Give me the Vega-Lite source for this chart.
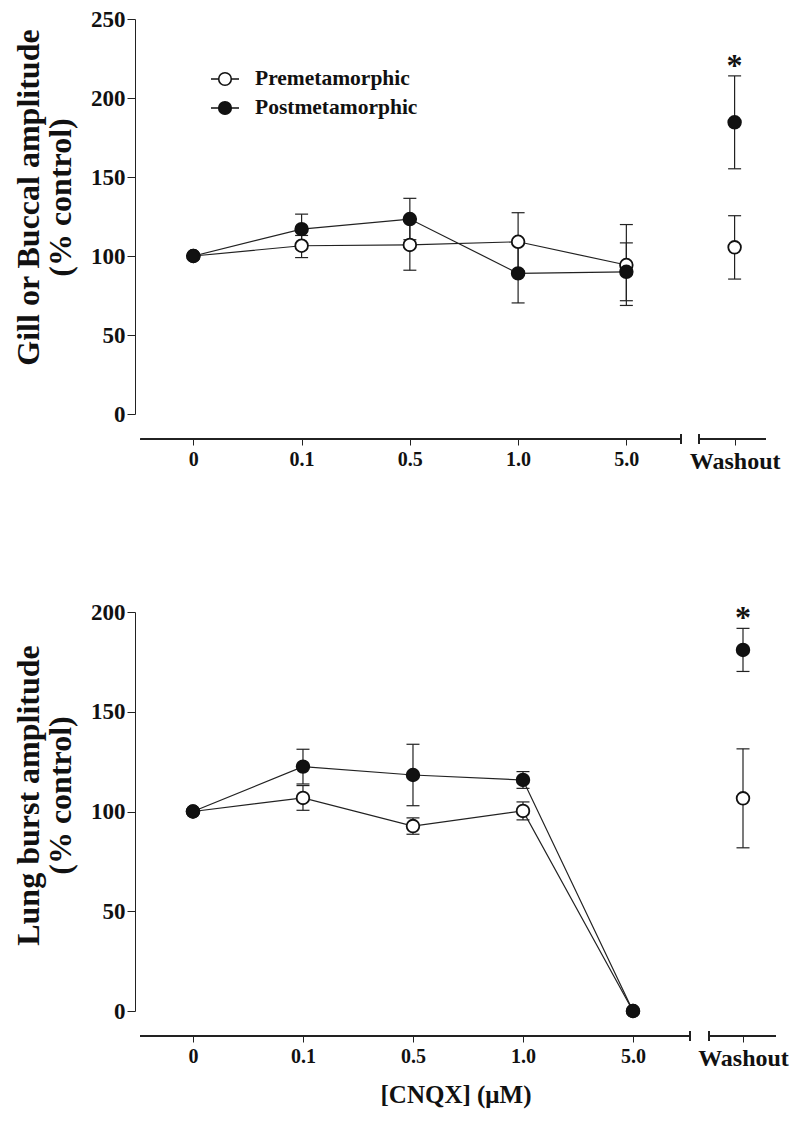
{
  "$schema": "https://vega.github.io/schema/vega-lite/v6.json",
  "padding": {"left": 12, "top": 8, "right": 10, "bottom": 10},
  "background": "white",
  "config": {
    "view": {"stroke": null},
    "font": "Liberation Serif",
    "axis": {
      "grid": false,
      "domainColor": "#222",
      "tickColor": "#222",
      "labelColor": "#111",
      "titleColor": "#111",
      "labelFont": "Liberation Serif",
      "titleFont": "Liberation Serif",
      "labelFontWeight": "bold",
      "titleFontWeight": "bold"
    }
  },
  "datasets": {
    "gill": [
      {"group": "Premetamorphic", "conc": "0", "idx": 0, "value": 100, "lo": null, "hi": null, "sig": ""},
      {"group": "Premetamorphic", "conc": "0.1", "idx": 1, "value": 106.5, "lo": 99, "hi": 113, "sig": ""},
      {"group": "Premetamorphic", "conc": "0.5", "idx": 2, "value": 107, "lo": 91, "hi": 123, "sig": ""},
      {"group": "Premetamorphic", "conc": "1.0", "idx": 3, "value": 109, "lo": 90.6, "hi": 127.4, "sig": ""},
      {"group": "Premetamorphic", "conc": "5.0", "idx": 4, "value": 94.3, "lo": 68.7, "hi": 119.9, "sig": ""},
      {"group": "Premetamorphic", "conc": "Washout", "idx": 5, "value": 105.5, "lo": 85.4, "hi": 125.5, "sig": ""},
      {"group": "Postmetamorphic", "conc": "0", "idx": 0, "value": 100, "lo": null, "hi": null, "sig": ""},
      {"group": "Postmetamorphic", "conc": "0.1", "idx": 1, "value": 117, "lo": 107.5, "hi": 126.5, "sig": ""},
      {"group": "Postmetamorphic", "conc": "0.5", "idx": 2, "value": 123.4, "lo": 110.3, "hi": 136.5, "sig": ""},
      {"group": "Postmetamorphic", "conc": "1.0", "idx": 3, "value": 89, "lo": 70.3, "hi": 107.7, "sig": ""},
      {"group": "Postmetamorphic", "conc": "5.0", "idx": 4, "value": 90, "lo": 71.7, "hi": 108.3, "sig": ""},
      {"group": "Postmetamorphic", "conc": "Washout", "idx": 5, "value": 184.6, "lo": 155.2, "hi": 214, "sig": "*"}
    ],
    "lung": [
      {"group": "Premetamorphic", "conc": "0", "idx": 0, "value": 100, "lo": null, "hi": null, "sig": ""},
      {"group": "Premetamorphic", "conc": "0.1", "idx": 1, "value": 106.8, "lo": 100.6, "hi": 113, "sig": ""},
      {"group": "Premetamorphic", "conc": "0.5", "idx": 2, "value": 92.7, "lo": 88.6, "hi": 96.8, "sig": ""},
      {"group": "Premetamorphic", "conc": "1.0", "idx": 3, "value": 100.3, "lo": 95.8, "hi": 104.8, "sig": ""},
      {"group": "Premetamorphic", "conc": "5.0", "idx": 4, "value": 0, "lo": null, "hi": null, "sig": ""},
      {"group": "Premetamorphic", "conc": "Washout", "idx": 5, "value": 106.6, "lo": 81.8, "hi": 131.4, "sig": ""},
      {"group": "Postmetamorphic", "conc": "0", "idx": 0, "value": 100, "lo": null, "hi": null, "sig": ""},
      {"group": "Postmetamorphic", "conc": "0.1", "idx": 1, "value": 122.5, "lo": 113.8, "hi": 131.2, "sig": ""},
      {"group": "Postmetamorphic", "conc": "0.5", "idx": 2, "value": 118.3, "lo": 102.9, "hi": 133.7, "sig": ""},
      {"group": "Postmetamorphic", "conc": "1.0", "idx": 3, "value": 115.8, "lo": 111.6, "hi": 120, "sig": ""},
      {"group": "Postmetamorphic", "conc": "5.0", "idx": 4, "value": 0, "lo": null, "hi": null, "sig": ""},
      {"group": "Postmetamorphic", "conc": "Washout", "idx": 5, "value": 181, "lo": 170.2, "hi": 191.8, "sig": "*"}
    ]
  },
  "resolve": {"scale": {"x": "independent", "y": "independent", "fill": "independent"}, "legend": {"fill": "independent"}},
  "spacing": 128,
  "vconcat": [
    {
      "width": 631,
      "height": 395,
      "data": {"name": "gill"},
      "layer": [
        {
          "transform": [{"filter": "datum.idx < 5"}],
          "mark": {"type": "line", "color": "#222", "strokeWidth": 1.2},
          "encoding": {
            "x": {"field": "idx", "type": "quantitative", "scale": {"domain": [-0.539, 5.29], "nice": false, "zero": false},
              "axis": {"values": [0, 1, 2, 3, 4, 5], "labelExpr": "['0','0.1','0.5','1.0','5.0','Washout'][datum.value]", "offset": 25, "domain": false, "tickSize": 6, "labelPadding": 4, "labelFontSize": {"condition": {"test": "datum.value == 5", "value": 24}, "value": 20}, "title": null}},
            "y": {"field": "value", "type": "quantitative", "scale": {"domain": [0, 250], "nice": false},
              "axis": {"values": [0, 50, 100, 150, 200, 250], "tickSize": 8, "labelPadding": 2, "labelFontSize": 23, "title": ["Gill or Buccal amplitude", "(% control)"], "titleFontSize": 32, "titleLineHeight": 32, "titlePadding": 13, "titleY": 178}},
            "detail": {"field": "group"}
          }
        },
        {
          "transform": [{"filter": "isValid(datum.lo)"}],
          "mark": {"type": "rule", "color": "#222", "strokeWidth": 1.2},
          "encoding": {
            "x": {"field": "idx", "type": "quantitative"},
            "y": {"field": "lo", "type": "quantitative"},
            "y2": {"field": "hi"}
          }
        },
        {
          "transform": [{"filter": "isValid(datum.lo)"}],
          "mark": {"type": "tick", "orient": "horizontal", "size": 13, "thickness": 1.2, "color": "#222", "opacity": 1},
          "encoding": {
            "x": {"field": "idx", "type": "quantitative"},
            "y": {"field": "lo", "type": "quantitative"}
          }
        },
        {
          "transform": [{"filter": "isValid(datum.lo)"}],
          "mark": {"type": "tick", "orient": "horizontal", "size": 13, "thickness": 1.2, "color": "#222", "opacity": 1},
          "encoding": {
            "x": {"field": "idx", "type": "quantitative"},
            "y": {"field": "hi", "type": "quantitative"}
          }
        },
        {
          "mark": {"type": "circle", "size": 160, "opacity": 1, "stroke": "#111", "strokeWidth": 1.8},
          "encoding": {
            "x": {"field": "idx", "type": "quantitative"},
            "y": {"field": "value", "type": "quantitative"},
            "fill": {"field": "group", "type": "nominal", "sort": ["Premetamorphic", "Postmetamorphic"],
              "scale": {"domain": ["Premetamorphic", "Postmetamorphic"], "range": ["white", "#111"]},
              "legend": {"orient": "none", "legendX": 75, "legendY": 45, "title": null, "padding": 0,
                "symbolType": "M-1,0H-0.45M0.45,0H1M-0.45,0A0.45,0.45 0 1,1 0.45,0A0.45,0.45 0 1,1 -0.45,0Z",
                "symbolSize": 784, "symbolStrokeColor": "#111", "symbolStrokeWidth": 1.6,
                "labelFont": "Liberation Serif", "labelFontWeight": "bold", "labelFontSize": 21.5, "labelColor": "#111",
                "labelLimit": 400, "labelOffset": 15, "rowPadding": 3}}
          }
        },
        {
          "transform": [{"filter": "datum.sig == '*'"}],
          "mark": {"type": "text", "font": "Liberation Serif", "fontWeight": "bold", "fontSize": 32, "align": "center", "baseline": "alphabetic", "color": "#111"},
          "encoding": {
            "x": {"field": "idx", "type": "quantitative"},
            "y": {"field": "hi", "type": "quantitative"},
            "text": {"field": "sig"}
          }
        },
        {
          "mark": {"type": "rule", "color": "#222", "strokeWidth": 1.2},
          "encoding": {"x": {"datum": -0.487}, "x2": {"datum": 4.507}, "y": {"datum": -15.84}}
        },
        {
          "mark": {"type": "rule", "color": "#222", "strokeWidth": 1.2},
          "encoding": {"x": {"datum": 4.673}, "x2": {"datum": 5.29}, "y": {"datum": -15.84}}
        },
        {
          "mark": {"type": "rule", "color": "#222", "strokeWidth": 1.2},
          "encoding": {"x": {"datum": 4.507}, "y": {"datum": -12.8}, "y2": {"datum": -18.9}}
        },
        {
          "mark": {"type": "rule", "color": "#222", "strokeWidth": 1.2},
          "encoding": {"x": {"datum": 4.673}, "y": {"datum": -12.8}, "y2": {"datum": -18.9}}
        }
      ]
    },
    {
      "width": 641,
      "height": 399,
      "data": {"name": "lung"},
      "layer": [
        {
          "transform": [{"filter": "datum.idx < 5"}],
          "mark": {"type": "line", "color": "#222", "strokeWidth": 1.2},
          "encoding": {
            "x": {"field": "idx", "type": "quantitative", "scale": {"domain": [-0.527, 5.3], "nice": false, "zero": false},
              "axis": {"values": [0, 1, 2, 3, 4, 5], "labelExpr": "['0','0.1','0.5','1.0','5.0','Washout'][datum.value]", "offset": 25, "domain": false, "tickSize": 6, "labelPadding": 4, "labelFontSize": {"condition": {"test": "datum.value == 5", "value": 24}, "value": 20}, "title": "[CNQX] (μM)", "titleFontSize": 25, "titlePadding": 12}},
            "y": {"field": "value", "type": "quantitative", "scale": {"domain": [0, 200], "nice": false},
              "axis": {"values": [0, 50, 100, 150, 200], "tickSize": 8, "labelPadding": 2, "labelFontSize": 23, "title": ["Lung burst amplitude", "(% control)"], "titleFontSize": 32, "titleLineHeight": 32, "titlePadding": 13, "titleY": 183}},
            "detail": {"field": "group"}
          }
        },
        {
          "transform": [{"filter": "isValid(datum.lo)"}],
          "mark": {"type": "rule", "color": "#222", "strokeWidth": 1.2},
          "encoding": {
            "x": {"field": "idx", "type": "quantitative"},
            "y": {"field": "lo", "type": "quantitative"},
            "y2": {"field": "hi"}
          }
        },
        {
          "transform": [{"filter": "isValid(datum.lo)"}],
          "mark": {"type": "tick", "orient": "horizontal", "size": 13, "thickness": 1.2, "color": "#222", "opacity": 1},
          "encoding": {
            "x": {"field": "idx", "type": "quantitative"},
            "y": {"field": "lo", "type": "quantitative"}
          }
        },
        {
          "transform": [{"filter": "isValid(datum.lo)"}],
          "mark": {"type": "tick", "orient": "horizontal", "size": 13, "thickness": 1.2, "color": "#222", "opacity": 1},
          "encoding": {
            "x": {"field": "idx", "type": "quantitative"},
            "y": {"field": "hi", "type": "quantitative"}
          }
        },
        {
          "mark": {"type": "circle", "size": 160, "opacity": 1, "stroke": "#111", "strokeWidth": 1.8},
          "encoding": {
            "x": {"field": "idx", "type": "quantitative"},
            "y": {"field": "value", "type": "quantitative"},
            "fill": {"field": "group", "type": "nominal",
              "scale": {"domain": ["Premetamorphic", "Postmetamorphic"], "range": ["white", "#111"]},
              "legend": null}
          }
        },
        {
          "transform": [{"filter": "datum.sig == '*'"}],
          "mark": {"type": "text", "font": "Liberation Serif", "fontWeight": "bold", "fontSize": 32, "align": "center", "baseline": "alphabetic", "color": "#111"},
          "encoding": {
            "x": {"field": "idx", "type": "quantitative"},
            "y": {"field": "hi", "type": "quantitative"},
            "text": {"field": "sig"}
          }
        },
        {
          "mark": {"type": "rule", "color": "#222", "strokeWidth": 1.2},
          "encoding": {"x": {"datum": -0.48}, "x2": {"datum": 4.518}, "y": {"datum": -12.53}}
        },
        {
          "mark": {"type": "rule", "color": "#222", "strokeWidth": 1.2},
          "encoding": {"x": {"datum": 4.69}, "x2": {"datum": 5.3}, "y": {"datum": -12.53}}
        },
        {
          "mark": {"type": "rule", "color": "#222", "strokeWidth": 1.2},
          "encoding": {"x": {"datum": 4.518}, "y": {"datum": -10.1}, "y2": {"datum": -14.9}}
        },
        {
          "mark": {"type": "rule", "color": "#222", "strokeWidth": 1.2},
          "encoding": {"x": {"datum": 4.69}, "y": {"datum": -10.1}, "y2": {"datum": -14.9}}
        }
      ]
    }
  ]
}
